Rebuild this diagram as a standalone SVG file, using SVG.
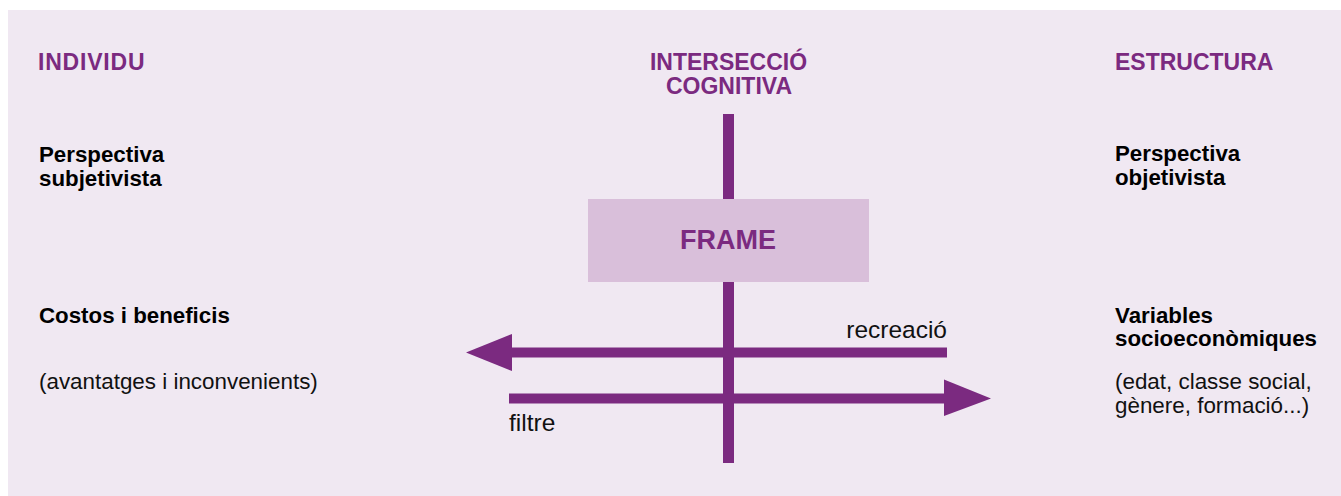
<svg xmlns="http://www.w3.org/2000/svg" width="1341" height="496" viewBox="0 0 1341 496">
<defs>
<style>
.hd{font-family:"Liberation Sans",Arial,sans-serif;font-weight:bold;font-size:23px;fill:#7B2A80}
.bd{font-family:"Liberation Sans",Arial,sans-serif;font-weight:bold;font-size:22.3px;fill:#000}
.rg{font-family:"Liberation Sans",Arial,sans-serif;font-size:22.4px;fill:#111}
.lb{font-family:"Liberation Sans",Arial,sans-serif;font-size:24.5px;fill:#111}
.bar{fill:#7B2A80}
</style>
</defs>
<rect x="0" y="0" width="1341" height="496" fill="#ffffff"/>
<rect x="8" y="10" width="1333" height="486" fill="#F0E8F2"/>
<g id="connectors">
<rect class="bar" x="723" y="114" width="11" height="349"/>
<rect class="bar" x="510" y="347.5" width="437" height="10"/>
<polygon class="bar" points="466,352.5 512,334 512,371"/>
<rect class="bar" x="509" y="393.5" width="437" height="10"/>
<polygon class="bar" points="991,398.5 944,379.5 944,416"/>
<text class="lb" x="947" y="338" text-anchor="end">recreació</text>
<text class="lb" x="509" y="431">filtre</text>
</g>
<g id="frame">
<rect x="588" y="199" width="281" height="83" fill="#D9BFDA"/>
<text class="hd" x="728" y="249" text-anchor="middle" style="font-size:27px">FRAME</text>
</g>
<g id="individu">
<text class="hd" x="38" y="70" letter-spacing="0.8">INDIVIDU</text>
</g>
<g id="interseccio">
<text class="hd" text-anchor="middle"><tspan x="728.5" y="70">INTERSECCIÓ</tspan><tspan x="729" y="94">COGNITIVA</tspan></text>
</g>
<g id="estructura">
<text class="hd" x="1115" y="70">ESTRUCTURA</text>
</g>
<g id="perspectiva-subjetivista">
<text class="bd" x="39" y="162">Perspectiva</text>
<text class="bd" x="39" y="186">subjetivista</text>
</g>
<g id="perspectiva-objetivista">
<text class="bd" x="1115" y="161">Perspectiva</text>
<text class="bd" x="1115" y="185">objetivista</text>
</g>
<g id="costos">
<text class="bd" x="39" y="323">Costos i beneficis</text>
<text class="rg" x="39" y="389">(avantatges i inconvenients)</text>
</g>
<g id="variables">
<text class="bd" x="1115" y="323">Variables</text>
<text class="bd" x="1115" y="346">socioeconòmiques</text>
<text class="rg" x="1115" y="389">(edat, classe social,</text>
<text class="rg" x="1115" y="413">gènere, formació...)</text>
</g>
</svg>
